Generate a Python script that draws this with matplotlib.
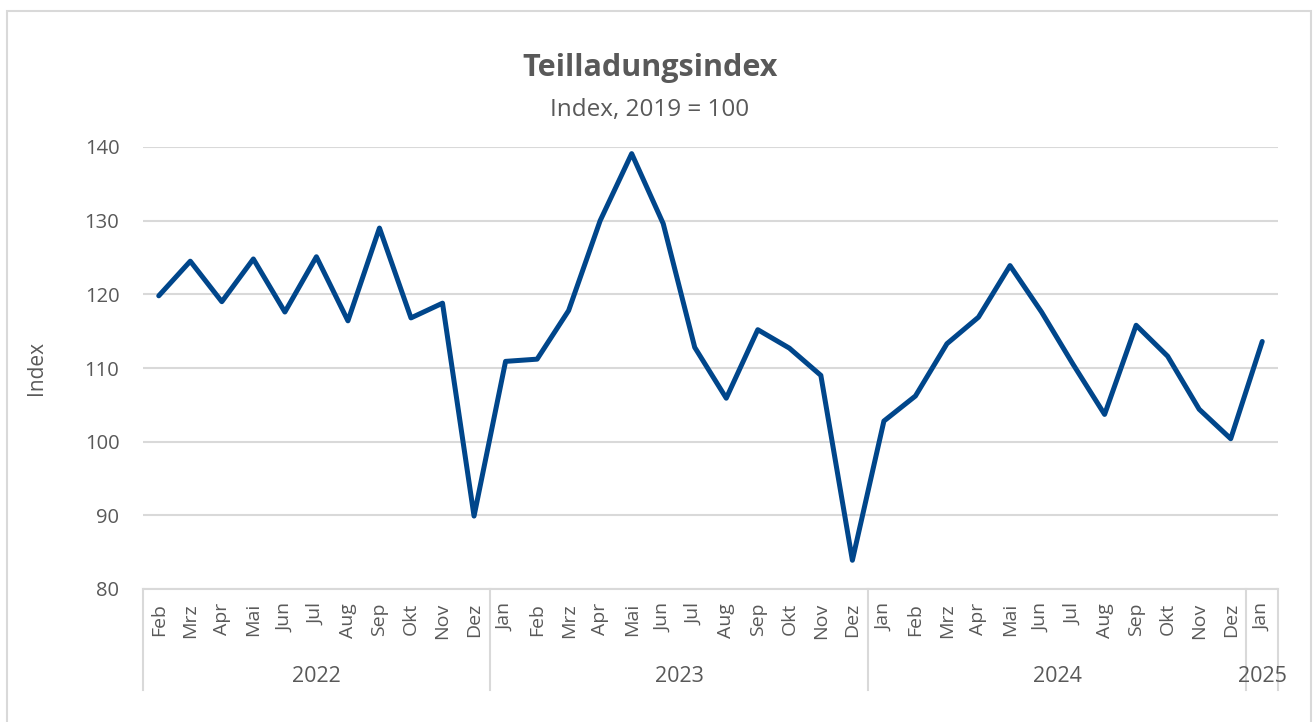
import matplotlib
matplotlib.use("Agg")
import matplotlib.pyplot as plt
from matplotlib.patches import Rectangle
import matplotlib.transforms as mtransforms

plt.rcParams['font.family'] = ['Open Sans', 'DejaVu Sans']

months = ["Feb", "Mrz", "Apr", "Mai", "Jun", "Jul", "Aug", "Sep", "Okt", "Nov", "Dez",
          "Jan", "Feb", "Mrz", "Apr", "Mai", "Jun", "Jul", "Aug", "Sep", "Okt", "Nov", "Dez",
          "Jan", "Feb", "Mrz", "Apr", "Mai", "Jun", "Jul", "Aug", "Sep", "Okt", "Nov", "Dez",
          "Jan"]
years = ["2022", "2023", "2024", "2025"]
year_counts = [11, 12, 12, 1]
values = [119.8, 124.5, 119.0, 124.8, 117.6, 125.1, 116.4, 129.0, 116.8, 118.8, 89.9,
          110.9, 111.2, 117.8, 130.0, 139.1, 129.6, 112.8, 105.9, 115.2, 112.7, 109.0, 83.9,
          102.8, 106.2, 113.3, 116.9, 123.9, 117.6, 110.5, 103.7, 115.8, 111.6, 104.4, 100.4,
          113.6]
yticks = [80, 90, 100, 110, 120, 130, 140]

txt = '#595959'
grid = '#d9d9d9'
W, H = 1314, 722
fig = plt.figure(figsize=(W / 100, H / 100), dpi=100)
ax = fig.add_axes([143 / W, 1 - 589 / H, (1278 - 143) / W, (589 - 147) / H])

x = list(range(len(values)))
ax.plot(x, values, color='#00468B', lw=3.6, solid_joinstyle='round', solid_capstyle='round',
        zorder=3, clip_on=False)

ax.set_ylim(80, 140)
ax.set_xlim(-0.5, len(values) - 0.5)
ax.set_yticks(yticks)
ax.set_yticklabels([str(v) for v in yticks])
ax.yaxis.grid(True, color=grid, lw=1.5)
ax.set_axisbelow(True)
for s in ['left', 'right', 'top']:
    ax.spines[s].set_visible(False)
ax.spines['bottom'].set_color(grid)
ax.spines['bottom'].set_linewidth(1.5)
ax.tick_params(axis='y', length=0, pad=17, labelsize=14.5, labelcolor=txt)
ax.set_xticks(x)
ax.set_xticklabels(months, rotation=90, fontsize=14, color=txt)
ax.tick_params(axis='x', length=0, pad=10)
ax.set_ylabel('Index', fontsize=15, color=txt)
ax.yaxis.set_label_coords(-(143 - 47) / (1278 - 143), 0.5)

trans = mtransforms.blended_transform_factory(ax.transData, ax.transAxes)
sep_bottom = -(690 - 589) / (589 - 147)
year_y = -(677 - 589) / (589 - 147)
pos = -0.5
bounds = [pos]
for yr, n in zip(years, year_counts):
    center = pos + n / 2
    ax.text(center, year_y, yr, transform=trans, ha='center', va='center',
            fontsize=15.5, color=txt)
    pos += n
    bounds.append(pos)
for b in bounds:
    ax.plot([b, b], [0, sep_bottom], transform=trans, color=grid, lw=1.5, clip_on=False)

fig.text(650 / W, 1 - 68 / H, 'Teilladungsindex', ha='center', va='center',
         fontsize=22, fontweight='bold', color=txt)
fig.text(650 / W, 1 - 110 / H, 'Index, 2019 = 100', ha='center', va='center',
         fontsize=17.5, color=txt)

fig.add_artist(Rectangle((7 / W, -0.05), (1311 - 7) / W, 1.05 - 11 / H,
                         transform=fig.transFigure, fill=False, edgecolor=grid, lw=1.5))

fig.savefig('out.png', dpi=100, facecolor='white')
